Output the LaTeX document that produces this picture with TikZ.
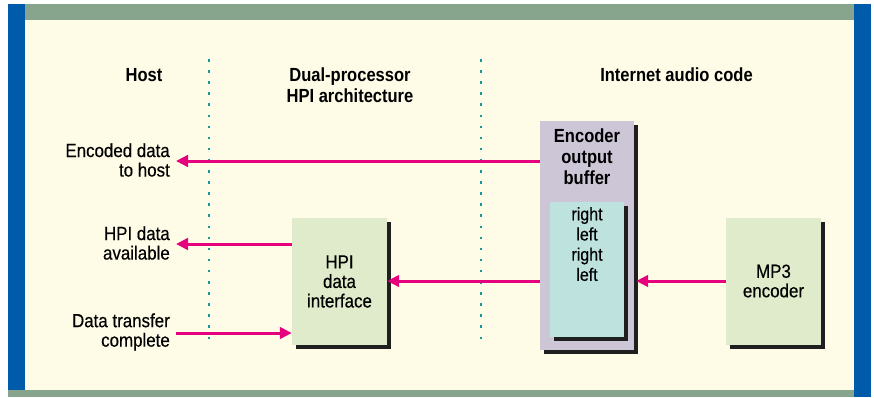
\documentclass[tikz,border=0pt]{standalone}
\usepackage{fontspec}
\setmainfont{Liberation Sans}
\newfontfamily\lblfont[FakeStretch=0.89,FakeBold=0.4]{Liberation Sans}
\newfontfamily\hdfont[FakeStretch=0.87]{Liberation Sans}
\usetikzlibrary{arrows.meta,shadows}
\definecolor{cream}{HTML}{FEFCE7}
\definecolor{bandgreen}{HTML}{87A58C}
\definecolor{edgeblue}{HTML}{005BAA}
\definecolor{signal}{HTML}{E5007E}
\definecolor{dotteal}{HTML}{1A979C}
\definecolor{lavender}{HTML}{CCC6D6}
\definecolor{aqua}{HTML}{BEE3DF}
\definecolor{palegreen}{HTML}{DFEBCB}
\tikzset{
  lbl/.style={font=\lblfont\fontsize{19}{19.5}\selectfont, align=center, text=black, inner sep=0pt},
  lblr/.style={lbl, align=right, anchor=east},
  head/.style={font=\hdfont\bfseries\fontsize{19}{21}\selectfont, align=center, text=black, inner sep=0pt},
  shadowed/.style={drop shadow={shadow xshift=3.5pt, shadow yshift=-3.5pt, fill=black!88, opacity=1}},
  blockbox/.style={draw=none, fill=palegreen, shadowed, minimum width=95pt, minimum height=127pt, inner sep=0pt},
  arr/.style={draw=signal, line width=3pt, -{Triangle[length=12pt,width=11.5pt]}},
  divider/.style={draw=dotteal, line width=2.5pt, dash pattern=on 2.5pt off 8.6pt, line cap=butt}
}
\begin{document}
\begin{tikzpicture}[x=1pt, y=-1pt]
\useasboundingbox (0,0) rectangle (874,397);
% frame
\fill[white] (0,0) rectangle (874,397);
\fill[cream] (25,20) rectangle (854,390);
\fill[bandgreen] (25,4) rectangle (854,20);
\fill[bandgreen] (8,390) rectangle (855,397);
\fill[edgeblue] (8,4) rectangle (25,390);
\fill[edgeblue] (854,4) rectangle (871,397);

% column dividers
\coordinate (d1t) at (209,59);
\coordinate (d1b) at (209,347);
\coordinate (d2t) at (481,59);
\coordinate (d2b) at (481,347);
\draw[divider] (d1t) -- (d1b);
\draw[divider] (d2t) -- (d2b);

% column headings
\node[head] (hhost) at (144,75) {Host};
\node[head] (hdual) at (350,85.5) {Dual-processor\\HPI architecture};
\node[head] (hnet) at (676.5,75) {Internet audio code};

% encoder output buffer
\node[fill=lavender, shadowed, minimum width=94pt, minimum height=229pt, inner sep=0pt] (buf) at (587,235.5) {};
\node[head] (buftitle) at (587,157) {Encoder\\output\\buffer};
\node[fill=aqua, shadowed, minimum width=74pt, minimum height=135pt, inner sep=0pt] (inner) at (587,269.5) {};
\node[lbl, anchor=north, align=center, font=\lblfont\fontsize{18}{20.2}\selectfont] (slots) at (587,207) {right\\left\\right\\left};

% functional blocks
\node[blockbox] (hpi) at (339.5,281.5) {};
\node[lbl] (hpitext) at (hpi) {HPI\\data\\interface};
\node[blockbox] (mp3) at (773.5,281.5) {};
\node[lbl] (mp3text) at (773.5,281) {MP3\\encoder};

% host-side signal labels
\node[lblr] (encl) at (170,160) {Encoded data\\to host};
\node[lblr] (availl) at (170,243) {HPI data\\available};
\node[lblr] (donel) at (170,332) {Data transfer\\complete};
\coordinate (encend) at (176,161);
\coordinate (availend) at (176,244);
\coordinate (donestart) at (176,333);

% signal flow
\draw[arr] (buf.west |- encend) -- (encend);
\draw[arr] (hpi.west |- availend) -- (availend);
\draw[arr] (donestart) -- (hpi.west |- donestart);
\draw[arr] (buf.west |- 0,281) -- (hpi.east |- 0,281);
\draw[arr] (mp3.west |- 0,281) -- ([xshift=2pt]buf.east |- 0,281);
\end{tikzpicture}
\end{document}
